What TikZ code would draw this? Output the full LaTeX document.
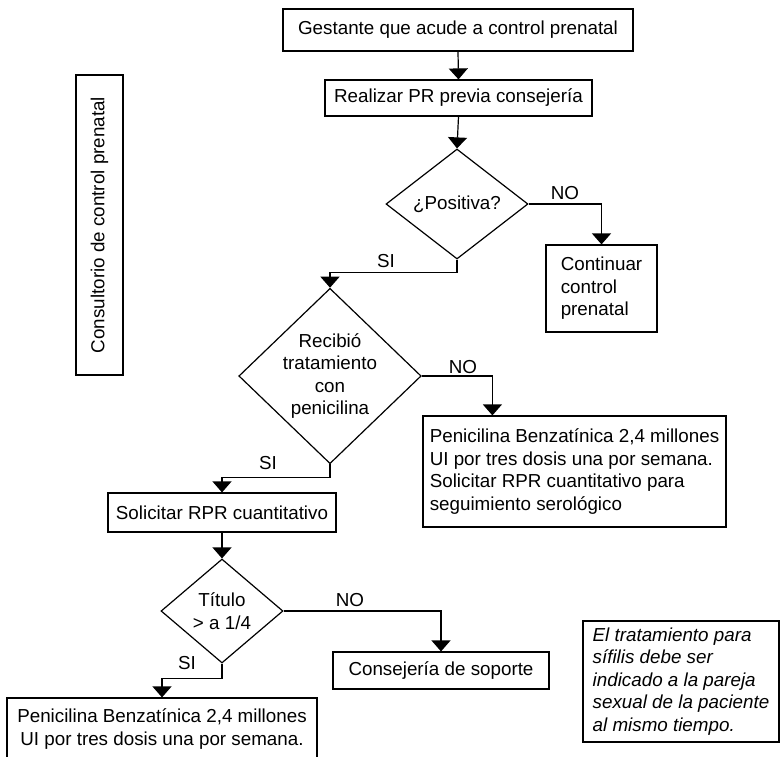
\documentclass[tikz,border=0pt]{standalone}
\usepackage{fontspec}
\setmainfont{Liberation Sans}
\usetikzlibrary{shapes.geometric,arrows.meta}
\begin{document}
\begin{tikzpicture}[x=1pt,y=-1pt,
  font=\fontsize{18.8}{22.4}\selectfont,
  every node/.style={inner sep=0pt, line width=1.2pt},
  stepbox/.style={draw, rectangle, align=center},
  leftbox/.style={draw, rectangle, align=left},
  decision/.style={draw, diamond, align=center},
  tag/.style={inner sep=0pt},
  arr/.style={line width=1.2pt, -{Triangle[width=19pt,length=11pt]}},
]
\useasboundingbox (0,0) rectangle (781,756);
\clip (0,0) rectangle (781,756);

% main flow
\node[stepbox, minimum width=350, minimum height=42] (b1) at (458,30)
  {Gestante que acude a control prenatal};
\node[stepbox, minimum width=267, minimum height=36] (b2) at (458.5,98)
  {Realizar PR previa consejería};
\node[decision, minimum width=142, minimum height=110, aspect=1.28] (q1) at (457,204)
  {¿Positiva?};
\node[leftbox, minimum width=111, minimum height=87] (cont) at (601.5,288.5)
  {Continuar\\control\\prenatal};
\node[decision, minimum width=178, minimum height=171, aspect=1.04] (q2) at (330,376)
  {Recibió\\tratamiento\\con\\penicilina};
\node[leftbox, minimum width=303, minimum height=111] (b3) at (574.5,471.5)
  {Penicilina Benzatínica 2,4 millones\\UI por tres dosis una por semana.\\Solicitar RPR cuantitativo para\\seguimiento serológico};
\node[stepbox, minimum width=228, minimum height=39] (b4) at (222,512.5)
  {Solicitar RPR cuantitativo};
\node[decision, minimum width=122, minimum height=104, aspect=1.17] (q3) at (222,611)
  {Título\\> a 1/4};
\node[stepbox, minimum width=216, minimum height=37] (b5) at (441,670.5)
  {Consejería de soporte};
\node[stepbox, minimum width=310, minimum height=62] (b6) at (162,729)
  {Penicilina Benzatínica 2,4 millones\\UI por tres dosis una por semana.};

% side boxes
\node[draw, rectangle, rotate=90, minimum width=300, minimum height=47] (place) at (99.5,225)
  {Consultorio de control prenatal};
\node[leftbox, minimum width=196, minimum height=121, font=\fontsize{18.8}{22.4}\selectfont\itshape] (note) at (681,681.5)
  {El tratamiento para\\sífilis debe ser\\indicado a la pareja\\sexual de la paciente\\al mismo tiempo.};

% connectors
\draw[arr] (b1.south) -- (b2.north);
\draw[arr] (b2.south) -- (q1.north);
\draw[arr] (q1.east) -| (cont.north);
\draw[arr] (q1.south) -- ++(0,13) -| (q2.north);
\draw[arr] (q2.east) -| ([xshift=70pt]b3.north west);
\draw[arr] (q2.south) -- ++(0,13) -| (b4.north);
\draw[arr] (b4.south) -- (q3.north);
\draw[arr] (q3.east) -| (b5.north);
\draw[arr] (q3.south) -- ++(0,15) -| (b6.north);

% branch labels
\node[tag] (no1) at (565,193) {NO};
\node[tag] (si1) at (386,261) {SI};
\node[tag] (no2) at (463,367) {NO};
\node[tag] (si2) at (268,463) {SI};
\node[tag] (no3) at (350,600) {NO};
\node[tag] (si3) at (187,663) {SI};
\end{tikzpicture}
\end{document}
